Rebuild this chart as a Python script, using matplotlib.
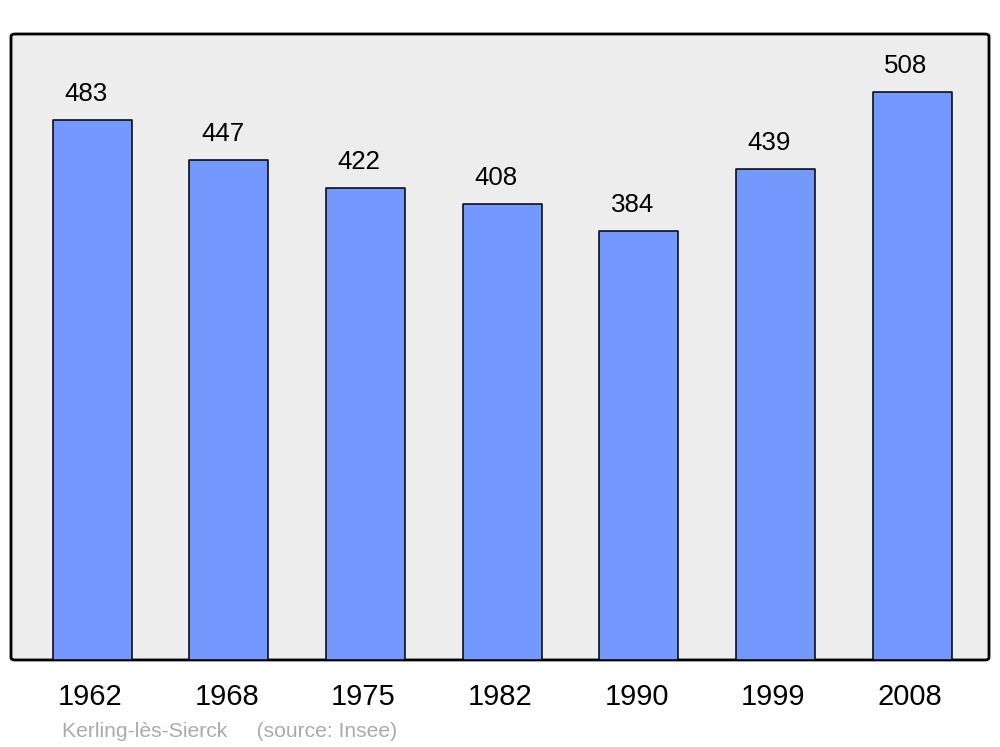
import matplotlib.pyplot as plt
from matplotlib.patches import FancyBboxPatch
from matplotlib.transforms import ScaledTranslation

plt.rcParams["font.family"] = ["Liberation Sans", "DejaVu Sans"]

# ===========================================
# DATA
# ===========================================

years = ["1962", "1968", "1975", "1982", "1990", "1999", "2008"]
population = [483, 447, 422, 408, 384, 439, 508]

town = "Kerling-lès-Sierck"
source = "(source: Insee)"

# ===========================================
# FIGURE
# ===========================================

fig = plt.figure(figsize=(10, 7.47), dpi=100)
ax = fig.add_axes([0.011, 0.1165, 0.978, 0.838])

ax.patch.set_visible(False)
for spine in ax.spines.values():
    spine.set_visible(False)

frame = FancyBboxPatch(
    (0, 0), 1, 1,
    boxstyle="round,pad=0,rounding_size=0.004",
    transform=ax.transAxes,
    facecolor="#ededed",
    edgecolor="black",
    linewidth=2,
    zorder=0,
    clip_on=False
)
ax.add_patch(frame)

x = list(range(len(years)))

bars = ax.bar(
    x,
    population,
    width=0.578,
    color="#7399ff",
    edgecolor="black",
    linewidth=1.1,
    zorder=2
)
for b in bars:
    b.set_joinstyle("round")

for xi, val in zip(x, population):
    ax.text(
        xi - 0.045,
        val + 17,
        str(val),
        ha="center",
        va="baseline",
        fontsize=18.6,
        color="black"
    )

ax.set_xlim(-0.593, 6.563)
ax.set_ylim(0, 560)

ax.set_xticks(x)
ax.set_xticklabels(years, fontsize=21)
ax.tick_params(axis="x", length=0, pad=16.5)
ax.set_yticks([])

shift = ScaledTranslation(-2 / 100, 0, fig.dpi_scale_trans)
for lbl in ax.get_xticklabels():
    lbl.set_transform(lbl.get_transform() + shift)

fig.text(
    62 / 1000,
    (747 - 737) / 747,
    town + "     " + source,
    fontsize=15.2,
    color="#aaaaaa",
    ha="left",
    va="baseline"
)

fig.savefig("out.png", dpi=100)
